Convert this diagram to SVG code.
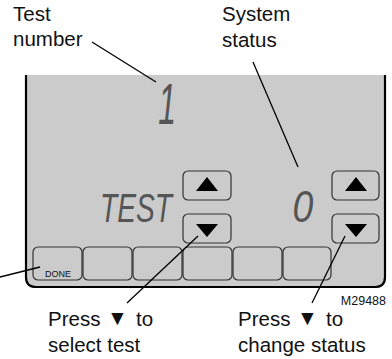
<svg xmlns="http://www.w3.org/2000/svg" width="392" height="359" viewBox="0 0 392 359">
<style>
.lbl{font-family:"Liberation Sans",Arial,sans-serif;font-size:20.5px;fill:#111}
.seg{font-family:"Liberation Sans",Arial,sans-serif;font-style:italic;fill:#555}
.btn{fill:#cbcbcb;stroke:#333;stroke-width:1.2}
.tri{fill:#000}
.lead{stroke:#000;stroke-width:1.3;fill:none}
</style>
<rect width="392" height="359" fill="#fff"/>
<g id="panel">
<path d="M26,75 V277 Q26,287 36,287 H375 Q385,287 385,277 V75 Z" fill="#cbcbcb"/>
<path d="M26,75 V277 Q26,287 36,287 H375 Q385,287 385,277 V75" fill="none" stroke="#000" stroke-width="2.2"/>
</g>
<g id="test-number-display"><text class="seg" x="0" y="0" font-size="58" text-anchor="middle" transform="translate(167,124) scale(0.55,1)">1</text></g>
<g id="test-display"><text class="seg" x="100" y="222" font-size="40" textLength="72" lengthAdjust="spacingAndGlyphs">TEST</text></g>
<g id="status-display"><text class="seg" x="0" y="0" font-size="44" text-anchor="middle" transform="translate(303,222) scale(0.85,1)">0</text></g>
<g id="test-up"><rect class="btn" x="183" y="171" width="48" height="29" rx="5"/><path class="tri" d="M207,177 L218,191 H196 Z"/></g>
<g id="test-down"><rect class="btn" x="183" y="214" width="48" height="29" rx="5"/><path class="tri" d="M196,224 H218 L207,237 Z"/></g>
<g id="status-up"><rect class="btn" x="332" y="171" width="47" height="29" rx="5"/><path class="tri" d="M356,177 L367,191 H345 Z"/></g>
<g id="status-down"><rect class="btn" x="332" y="214" width="47" height="29" rx="5"/><path class="tri" d="M345,224 H367 L356,237 Z"/></g>
<g id="done-button"><rect class="btn" x="33" y="247" width="49" height="33" rx="5"/><text x="45" y="277" font-family="Liberation Sans,Arial,sans-serif" font-size="9" fill="#111">DONE</text></g>
<g id="button-2"><rect class="btn" x="83" y="247" width="49" height="33" rx="5"/></g>
<g id="button-3"><rect class="btn" x="133" y="247" width="49" height="33" rx="5"/></g>
<g id="button-4"><rect class="btn" x="183" y="247" width="49" height="33" rx="5"/></g>
<g id="button-5"><rect class="btn" x="233" y="247" width="49" height="33" rx="5"/></g>
<g id="button-6"><rect class="btn" x="283" y="247" width="48" height="33" rx="5"/></g>
<g id="connectors">
<line class="lead" x1="92" y1="42" x2="156" y2="82"/>
<line class="lead" x1="253" y1="62" x2="298" y2="167"/>
<line class="lead" x1="0" y1="277" x2="40" y2="267"/>
<line class="lead" x1="198" y1="236" x2="127" y2="303"/>
<line class="lead" x1="345" y1="236" x2="312" y2="303"/>
</g>
<g id="label-test-number"><text class="lbl"><tspan x="13" y="21">Test</tspan><tspan x="13" y="46">number</tspan></text></g>
<g id="label-system-status"><text class="lbl"><tspan x="222" y="21">System</tspan><tspan x="222" y="47">status</tspan></text></g>
<g id="label-select-test"><text class="lbl"><tspan x="48" y="326">Press</tspan><tspan x="107" y="325" style="font-size:21px">▼</tspan><tspan x="136" y="326">to</tspan><tspan x="48" y="352">select test</tspan></text></g>
<g id="label-change-status"><text class="lbl"><tspan x="238" y="326">Press</tspan><tspan x="297" y="325" style="font-size:21px">▼</tspan><tspan x="326" y="326">to</tspan><tspan x="238" y="352">change status</tspan></text></g>
<g id="figure-id"><text x="386" y="305" font-family="Liberation Sans,Arial,sans-serif" font-size="12.5" fill="#111" text-anchor="end">M29488</text></g>
</svg>
